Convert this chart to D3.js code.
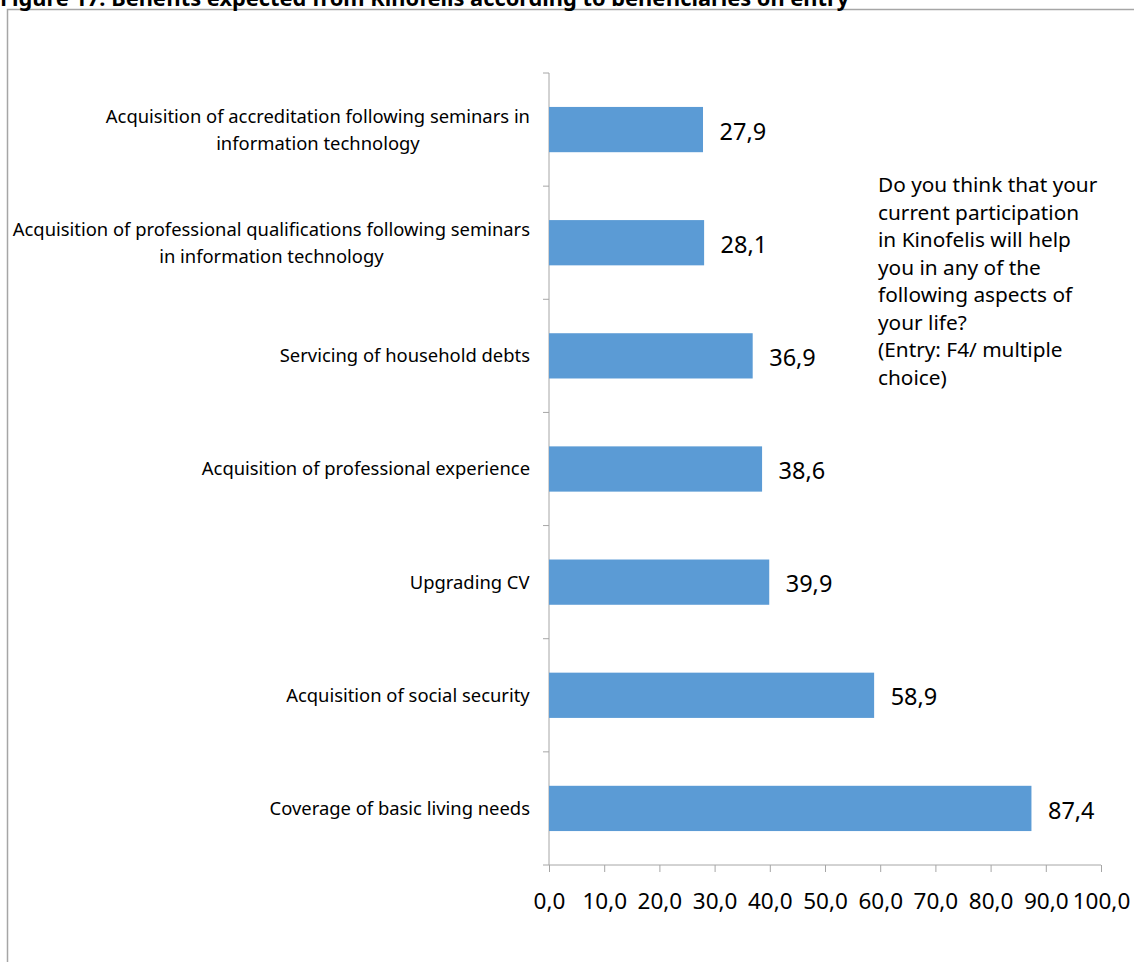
<!DOCTYPE html>
<html><head><meta charset="utf-8">
<script src="https://cdn.jsdelivr.net/npm/d3@7"></script>
<style>body{margin:0;background:#fff;} text{font-family:"Noto Sans","Open Sans",sans-serif;}</style>
</head><body>
<svg id="c" width="1134" height="962"></svg>
<script>
const title = "Figure 17: Benefits expected from Kinofelis according to beneficiaries on entry";
const categories = [
  ["Acquisition of accreditation following seminars in", "information technology"],
  ["Acquisition of professional qualifications following seminars", "in information technology"],
  ["Servicing of household debts"],
  ["Acquisition of professional experience"],
  ["Upgrading CV"],
  ["Acquisition of social security"],
  ["Coverage of basic living needs"]
];
const values = [27.9, 28.1, 36.9, 38.6, 39.9, 58.9, 87.4];
const tickValues = [0,10,20,30,40,50,60,70,80,90,100];
const noteLines = ["Do you think that your","current participation","in Kinofelis will help","you in any of the","following aspects of","your life?","(Entry: F4/ multiple","choice)"];

const svg = d3.select("#c");
const fmt = v => v.toFixed(1).replace(".", ",");

// frame
svg.append("rect").attr("x",7.5).attr("y",9.5).attr("width",1140).attr("height",970)
  .attr("fill","none").attr("stroke","#a6a6a6").attr("stroke-width",1.5);
// title (cut at top edge, as in the reference)
svg.append("text").attr("x",0).attr("y",6).attr("font-weight","bold").attr("font-size",21.8)
  .attr("fill","#000").text(title);

const x = d3.scaleLinear().domain([0,100]).range([549,1101]);
const y = d3.scaleBand().domain(d3.range(categories.length)).range([73,865]).paddingInner(0.6).paddingOuter(0.3);
const yb = d3.scaleBand().domain(d3.range(categories.length)).range([73,865]);

const axisColor = "#a6a6a6";
// x axis
const xa = svg.append("g").attr("transform","translate(0,865)")
  .call(d3.axisBottom(x).tickValues(tickValues).tickSize(7).tickFormat(fmt));
xa.select(".domain").attr("stroke",axisColor).attr("d","M543,0H1101");
xa.selectAll(".tick line").attr("stroke",axisColor);
xa.selectAll(".tick text").attr("font-size",22.5).attr("fill","#000")
  .attr("y",44).attr("dy",0).attr("font-family","'Noto Sans'");

// y axis
svg.append("line").attr("x1",549).attr("x2",549).attr("y1",73).attr("y2",865).attr("stroke",axisColor);
const yTicks = d3.range(categories.length).map(i => yb(i));
svg.selectAll(".yt").data(yTicks).join("line").attr("x1",543).attr("x2",549)
  .attr("y1",d=>d).attr("y2",d=>d).attr("stroke",axisColor);

// bars
svg.selectAll(".bar").data(values).join("rect")
  .attr("x",x(0)).attr("y",(d,i)=>y(i)).attr("width",d=>x(d)-x(0)).attr("height",y.bandwidth())
  .attr("fill","#5b9bd5");
svg.selectAll(".val").data(values).join("text")
  .attr("x",d=>x(d)+16.5).attr("y",(d,i)=>y(i)+y.bandwidth()/2).attr("dy","0.43em")
  .attr("font-size",23.5).attr("fill","#000").text(fmt);

// category labels
categories.forEach((lines,i)=>{
  const cy = yb(i)+yb.bandwidth()/2;
  const lh = 27;
  const t = svg.append("text").attr("text-anchor","middle").attr("font-size",18.4).attr("fill","#000");
  lines.forEach((l,j)=>{
    t.append("tspan").attr("x",0).attr("y",cy + (j-(lines.length-1)/2)*lh).attr("dy","0.35em").text(l);
  });
  const bb = t.node().getBBox();
  t.attr("transform",`translate(${530 - bb.width/2},0)`);
});

// note
const note = svg.append("text").attr("font-size",20.8).attr("fill","#000");
noteLines.forEach((l,j)=>note.append("tspan").attr("x",878).attr("y",192+j*27.5).text(l));
</script>
</body></html>
